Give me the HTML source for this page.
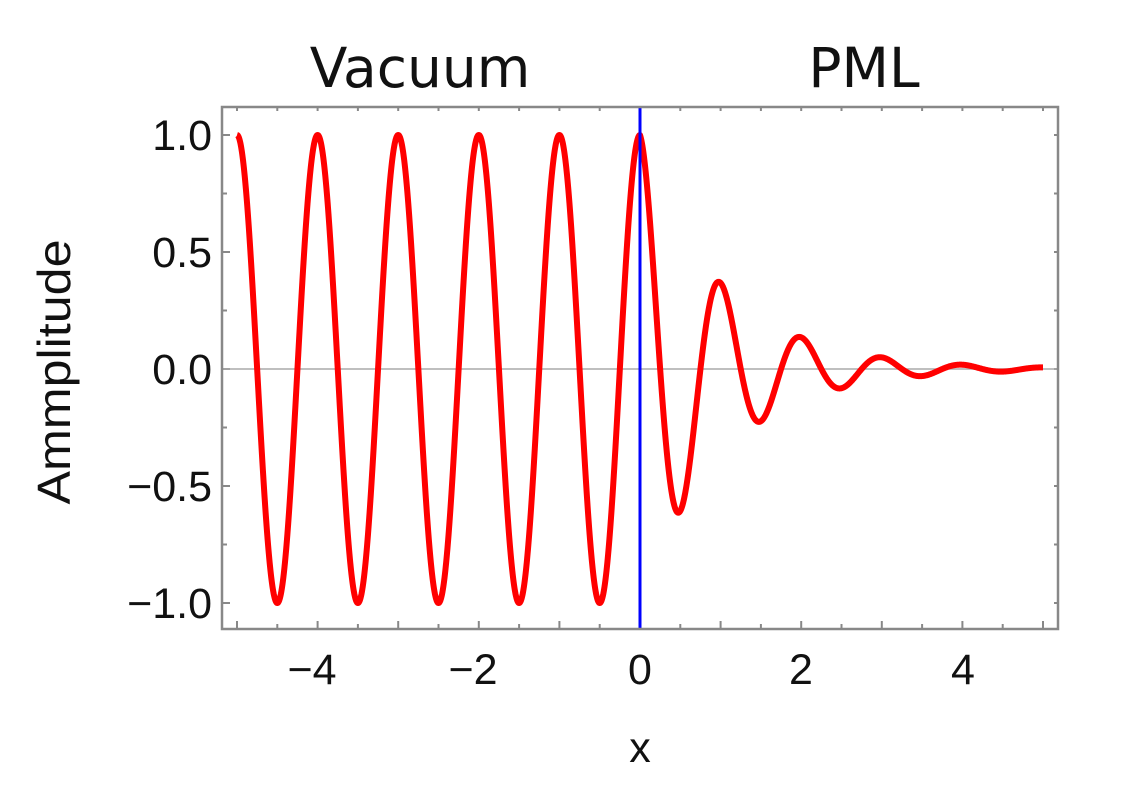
<!DOCTYPE html>
<html><head><meta charset="utf-8"><style>
html,body{margin:0;padding:0;background:#fff;}
svg{display:block;}
text{font-family:"Liberation Sans",sans-serif;fill:#111;}
</style></head><body>
<svg id="s" width="1144" height="801" viewBox="0 0 1144 801" xmlns="http://www.w3.org/2000/svg">
<g id="ticks" stroke="#888" stroke-width="2"></g>
<line x1="222" y1="369" x2="1058" y2="369" stroke="#aaa" stroke-width="1.5"/>
<path id="curve" fill="none" stroke="#f00" stroke-width="6" stroke-linejoin="round"/>
<line x1="640" y1="106" x2="640" y2="629" stroke="#00f" stroke-width="3"/>
<rect x="222" y="107" width="836" height="522" fill="none" stroke="#888" stroke-width="2.5"/>
<g font-size="43" text-anchor="end">
<text x="212" y="150">1.0</text>
<text x="212" y="267">0.5</text>
<text x="212" y="384">0.0</text>
<text x="212" y="501">−0.5</text>
<text x="212" y="618">−1.0</text>
</g>
<g font-size="43" text-anchor="middle">
<text x="312" y="684">−4</text>
<text x="473" y="684">−2</text>
<text x="640" y="684">0</text>
<text x="801" y="684">2</text>
<text x="963" y="684">4</text>
<text x="640" y="762">x</text>
</g>
<g font-size="55" text-anchor="middle">
<text x="420" y="87" style="font-family:'DejaVu Sans',sans-serif">Vacuum</text>
<text x="864" y="87" style="font-family:'DejaVu Sans',sans-serif">PML</text>
</g>
<text transform="translate(70,372) rotate(-90)" font-size="46" text-anchor="middle" textLength="265" lengthAdjust="spacingAndGlyphs">Ammplitude</text>
</svg>
<script>
var X=function(x){return 640+x*80.6;},Y=function(y){return 369-y*234;};
var d="";
for(var i=0;i<=2000;i++){var x=-5+i*10/2000;var y=Math.cos(2*Math.PI*x);if(x>0)y*=Math.exp(-x);
d+=(i?"L":"M")+X(x).toFixed(2)+" "+Y(y).toFixed(2);}
document.getElementById("curve").setAttribute("d",d);
var g=document.getElementById("ticks"),h="";
for(var k=-10;k<=10;k++){var x=X(k/2),L=(k%2==0)?8:5;
h+='<line x1="'+x+'" y1="629" x2="'+x+'" y2="'+(629-L)+'"/>';
h+='<line x1="'+x+'" y1="107" x2="'+x+'" y2="'+(107+4)+'"/>';}
for(var k=-4;k<=4;k++){var y=Y(k/4),L=(k%2==0)?8:5;
h+='<line x1="222" y1="'+y+'" x2="'+(222+L)+'" y2="'+y+'"/>';
h+='<line x1="1058" y1="'+y+'" x2="'+(1058-4)+'" y2="'+y+'"/>';}
g.innerHTML=h;
</script>
</body></html>
